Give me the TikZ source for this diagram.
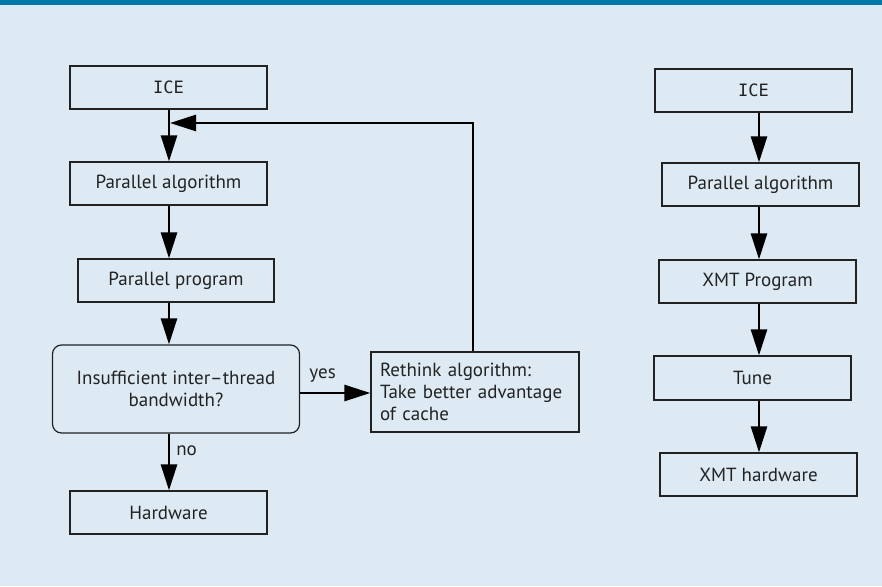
\documentclass[tikz,border=0pt]{standalone}
\usepackage{fontspec}
\setmainfont{PT Sans}
\setmonofont{DejaVu Sans Mono}
\usetikzlibrary{arrows.meta}
\definecolor{bgc}{HTML}{DDEAF3}
\definecolor{band}{HTML}{0079A6}
\definecolor{ink}{HTML}{222222}
\tikzset{
  box/.style={draw=ink, line width=1.2pt, minimum width=197pt, minimum height=43pt, inner sep=0pt, text=ink, font=\fontsize{19}{22}\selectfont},
  arr/.style={draw=black, line width=2.6pt, -{Triangle[length=26pt,width=16pt]}},
  lbl/.style={text=ink, font=\fontsize{19}{22}\selectfont, inner sep=0pt}
}
\begin{document}
\begin{tikzpicture}[x=1pt,y=-1pt]
\useasboundingbox (0,0) rectangle (882,586);
\fill[bgc] (0,0) rectangle (882,586);
\fill[band] (0,0) rectangle (882,5);
% left column
\node[box] (iceL) at (168.5,87.5) {\fontsize{17}{20}\ttfamily ICE};
\node[box] (paL) at (168.5,183.5) {Parallel algorithm};
\node[box, minimum width=196pt] (ppL) at (176,280.5) {Parallel program};
\node[box, minimum width=247pt, minimum height=88pt, rounded corners=9pt, align=center] (dec) at (176,389) {Insufficient inter--thread\\bandwidth?};
\node[box] (hw) at (168.5,512.5) {Hardware};
\node[box, minimum width=206pt, minimum height=80pt, text width=190pt, align=left, inner sep=9pt] (re) at (475,392) {Rethink algorithm:\\Take better advantage\\of cache};
\coordinate (lx) at (169,0);
\coordinate (fbx) at (473,0);
\coordinate (join) at (170,123);
\draw[arr] (iceL.south -| lx) -- (paL.north -| lx);
\draw[arr] (paL.south -| lx) -- (ppL.north -| lx);
\draw[arr] (ppL.south -| lx) -- (dec.north -| lx);
\draw[arr] (dec.south -| lx) -- (hw.north -| lx) node[lbl, pos=0.3, right=6pt] (no) {no};
\draw[arr] ([yshift=-4pt]dec.east) -- ([yshift=-4pt]dec.east -| re.west) node[lbl, pos=0.32, above=9pt] (yes) {yes};
\draw[arr] (re.north -| fbx) |- (join);
% right column
\node[box] (iceR) at (753.5,90.5) {\fontsize{17}{20}\ttfamily ICE};
\node[box] (paR) at (760.5,184.5) {Parallel algorithm};
\node[box] (xp) at (757.5,281.5) {XMT Program};
\node[box, minimum height=44pt] (tune) at (752.5,378) {Tune};
\node[box] (xh) at (758.5,474.5) {XMT hardware};
\coordinate (rx) at (759,0);
\draw[arr] (iceR.south -| rx) -- (paR.north -| rx);
\draw[arr] (paR.south -| rx) -- (xp.north -| rx);
\draw[arr] (xp.south -| rx) -- (tune.north -| rx);
\draw[arr] (tune.south -| rx) -- (xh.north -| rx);
\end{tikzpicture}
\end{document}
